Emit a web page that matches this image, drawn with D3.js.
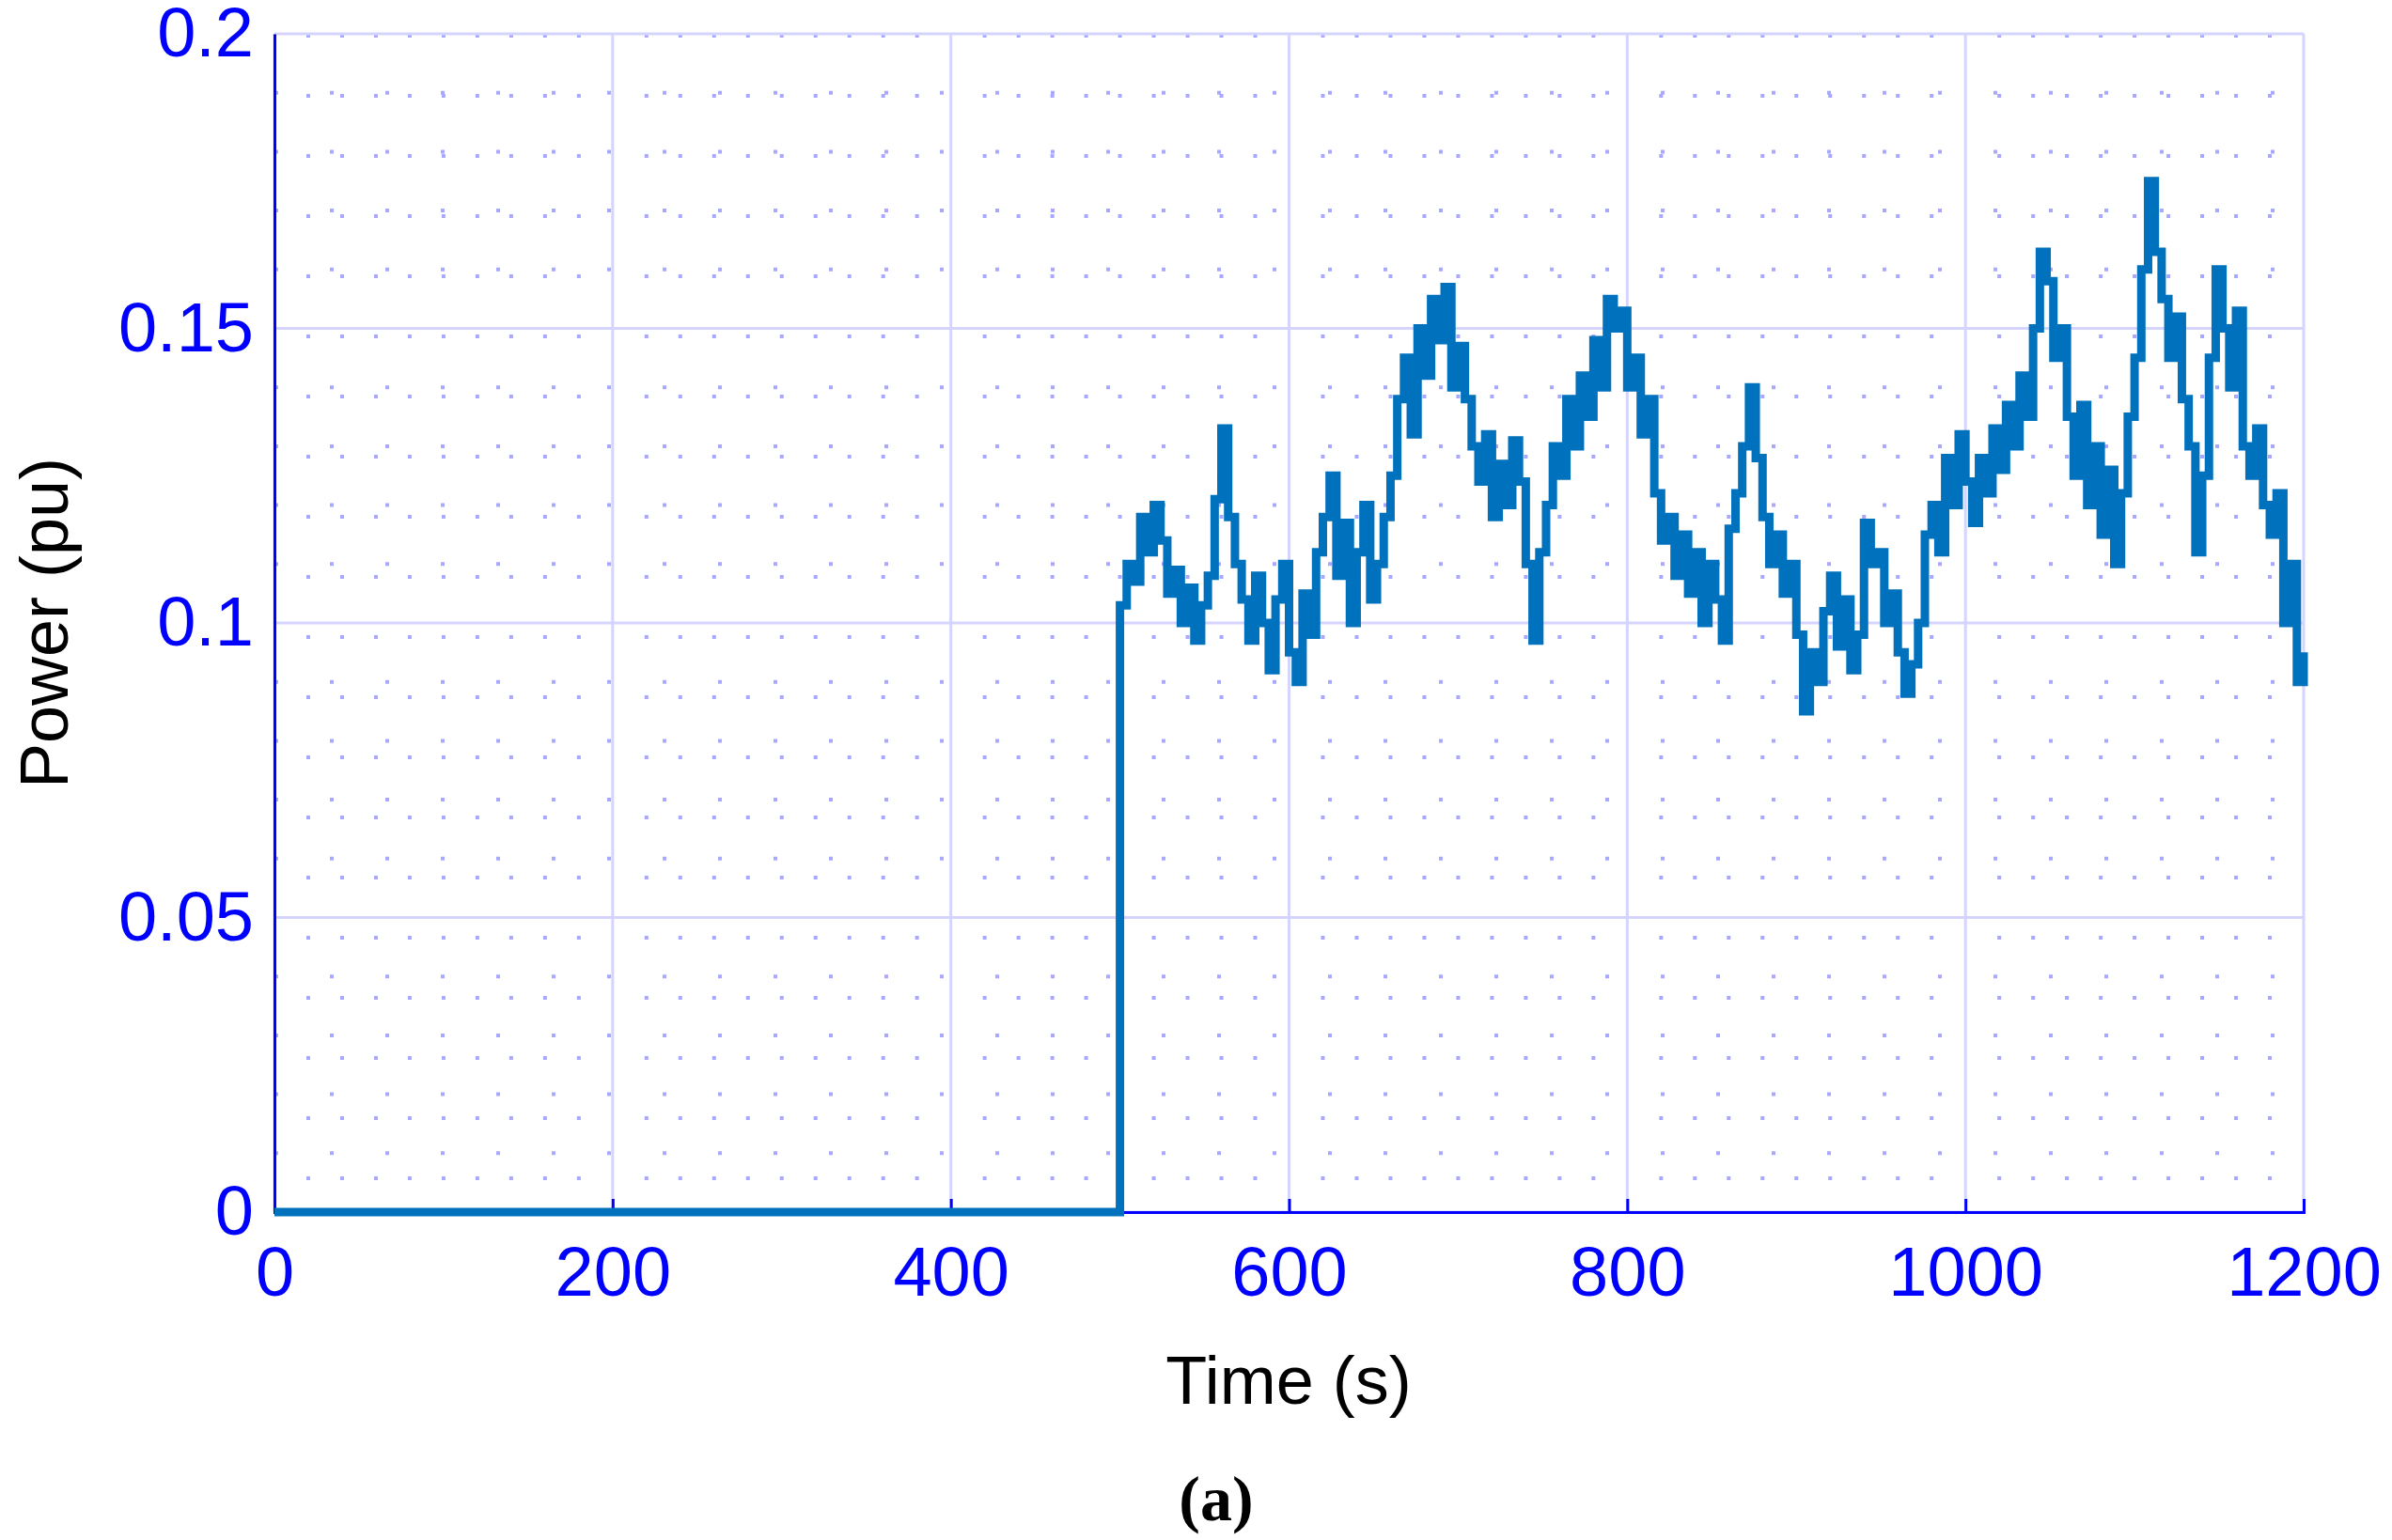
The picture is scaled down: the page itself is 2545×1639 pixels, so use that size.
<!DOCTYPE html>
<html><head><meta charset="utf-8">
<script src="https://cdn.jsdelivr.net/npm/d3@7"></script>
<style>body{margin:0;background:#fff}</style></head>
<body><svg id="c" width="2545" height="1639"></svg>
<script>
const xTicks=[0,200,400,600,800,1000,1200];
const yTicks=[0,0.05,0.1,0.15,0.2];
const yTickLabels=["0","0.05","0.1","0.15","0.2"];
const offTimes=[0,500];
const offValues=[0,0];
const stepStart=500, stepSize=4;
const powerValues=[
0.103,0.110,0.107,0.118,0.112,0.120,0.114,0.105,0.109,0.100,0.106,
0.097,0.103,0.108,0.121,0.133,0.118,0.110,0.104,0.097,0.108,
0.100,0.092,0.104,0.110,0.095,0.090,0.105,0.098,0.112,0.118,
0.125,0.108,0.117,0.100,0.112,0.120,0.104,0.110,0.118,0.125,
0.138,0.145,0.132,0.150,0.142,0.155,0.148,0.157,0.140,0.147,
0.138,0.130,0.124,0.132,0.118,0.127,0.120,0.131,0.124,0.110,
0.097,0.112,0.120,0.130,0.125,0.138,0.130,0.142,0.135,0.148,
0.140,0.155,0.150,0.153,0.140,0.145,0.132,0.138,0.122,0.114,
0.118,0.108,0.115,0.105,0.112,0.100,0.110,0.104,0.097,0.116,
0.122,0.130,0.140,0.128,0.118,0.110,0.115,0.105,0.110,0.098,
0.085,0.095,0.090,0.102,0.108,0.096,0.104,0.092,0.098,0.117,
0.110,0.112,0.100,0.105,0.095,0.088,0.093,0.100,0.115,0.120,
0.112,0.128,0.120,0.132,0.124,0.117,0.128,0.122,0.133,0.126,
0.137,0.130,0.142,0.135,0.150,0.163,0.158,0.145,0.150,0.135,
0.125,0.137,0.120,0.130,0.115,0.126,0.110,0.122,0.135,0.145,
0.160,0.175,0.163,0.155,0.145,0.152,0.138,0.130,0.112,0.125,
0.145,0.160,0.150,0.140,0.153,0.130,0.125,0.133,0.120,0.115,
0.122,0.100,0.110,0.090,0.095];

const L=292,R=2451,T=36,B=1290;
const x=d3.scaleLinear().domain([0,1200]).range([L,R]);
const y=d3.scaleLinear().domain([0,0.2]).range([B,T]);
const svg=d3.select("#c");
const font="'Liberation Sans',Arial,sans-serif";
const g=svg.append("g");
g.selectAll(".mx").data(d3.range(0,1201,20).filter(v=>v%200)).join("line")
 .attr("x1",d=>x(d)).attr("x2",d=>x(d)).attr("y1",T).attr("y2",B)
 .attr("stroke","#a8a8ff").attr("stroke-width",4).attr("stroke-dasharray","4,60");
g.selectAll(".my").data(d3.range(1,20).map(i=>i/100).filter(v=>Math.abs(v*20-Math.round(v*20))>1e-6)).join("line")
 .attr("y1",d=>y(d)).attr("y2",d=>y(d)).attr("x1",L).attr("x2",R)
 .attr("stroke","#a8a8ff").attr("stroke-width",4).attr("stroke-dasharray","4,55");
g.selectAll(".Mx").data(xTicks).join("line")
 .attr("x1",d=>x(d)).attr("x2",d=>x(d)).attr("y1",T).attr("y2",B)
 .attr("stroke","#d4d4ff").attr("stroke-width",3);
g.selectAll(".My").data(yTicks).join("line")
 .attr("y1",d=>y(d)).attr("y2",d=>y(d)).attr("x1",L).attr("x2",R)
 .attr("stroke","#d4d4ff").attr("stroke-width",3);
const xa=svg.append("g").attr("transform",`translate(0,${B})`)
 .call(d3.axisBottom(x).tickValues(xTicks).tickSize(-14).tickPadding(36).tickFormat(d3.format("d")));
const ya=svg.append("g").attr("transform",`translate(${L},0)`)
 .call(d3.axisLeft(y).tickValues(yTicks).tickSize(0).tickPadding(22).tickFormat((d,i)=>yTickLabels[i]));
[xa,ya].forEach(a=>{a.selectAll("path,line").attr("stroke","#0000ff").attr("stroke-width",3);
 a.selectAll("text").attr("fill","#0000ff").style("font-family",font).style("font-size","74px");});
xa.selectAll("text").attr("dy","0.71em");
const data=offTimes.map((t,i)=>[t,offValues[i]]).concat(powerValues.map((v,i)=>[stepStart+i*stepSize,v]));
svg.append("path").datum(data).attr("fill","none").attr("stroke","#0072bd").attr("stroke-width",9)
 .attr("d",d3.line().x(d=>x(d[0])).y(d=>y(d[1])).curve(d3.curveStepAfter));
svg.append("text").attr("x",1371).attr("y",1494).attr("text-anchor","middle")
 .style("font-family",font).style("font-size","72px").text("Time (s)");
svg.append("text").attr("transform",`translate(72,${(T+B)/2}) rotate(-90)`).attr("text-anchor","middle")
 .style("font-family",font).style("font-size","72px").text("Power (pu)");
svg.append("text").attr("x",1294).attr("y",1618).attr("text-anchor","middle")
 .style("font-family","'Liberation Serif',serif").style("font-weight","bold").style("font-size","68px").text("(a)");
</script></body></html>
